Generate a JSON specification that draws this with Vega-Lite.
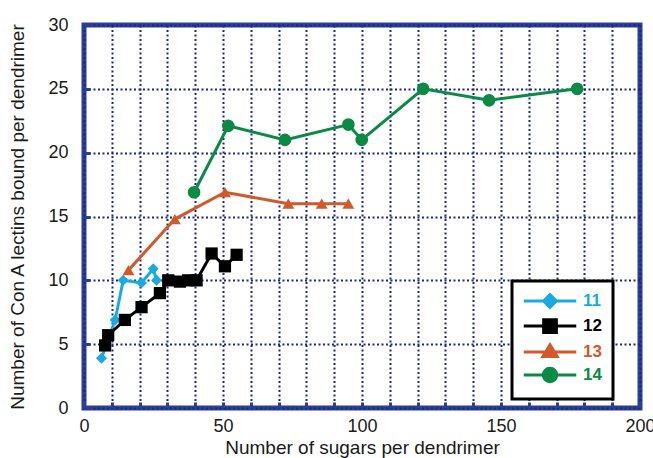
{
  "$schema": "https://vega.github.io/schema/vega-lite/v6.json",
  "width": 556,
  "height": 383,
  "autosize": "none",
  "padding": {"left": 84, "top": 25, "right": 13, "bottom": 50},
  "data": {"values": [
    {"s": "11", "x": 6.3, "y": 3.9},
    {"s": "11", "x": 11.2, "y": 6.9},
    {"s": "11", "x": 14.1, "y": 10.0},
    {"s": "11", "x": 20.7, "y": 9.8},
    {"s": "11", "x": 24.9, "y": 10.9},
    {"s": "11", "x": 26.1, "y": 10.0},
    {"s": "12", "x": 7.6, "y": 4.9},
    {"s": "12", "x": 8.7, "y": 5.7},
    {"s": "12", "x": 14.7, "y": 6.9},
    {"s": "12", "x": 20.7, "y": 7.9},
    {"s": "12", "x": 27.3, "y": 9.0},
    {"s": "12", "x": 30.3, "y": 10.0},
    {"s": "12", "x": 34.5, "y": 9.9},
    {"s": "12", "x": 37.5, "y": 10.0},
    {"s": "12", "x": 40.5, "y": 10.0},
    {"s": "12", "x": 45.9, "y": 12.1},
    {"s": "12", "x": 50.7, "y": 11.1},
    {"s": "12", "x": 54.9, "y": 12.0},
    {"s": "13", "x": 16.0, "y": 10.8},
    {"s": "13", "x": 32.7, "y": 14.8},
    {"s": "13", "x": 50.7, "y": 16.9},
    {"s": "13", "x": 73.5, "y": 16.0},
    {"s": "13", "x": 85.5, "y": 16.0},
    {"s": "13", "x": 95.1, "y": 16.0},
    {"s": "14", "x": 39.6, "y": 16.9},
    {"s": "14", "x": 51.9, "y": 22.1},
    {"s": "14", "x": 72.3, "y": 21.0},
    {"s": "14", "x": 95.1, "y": 22.2},
    {"s": "14", "x": 99.9, "y": 21.0},
    {"s": "14", "x": 122.0, "y": 25.0},
    {"s": "14", "x": 145.7, "y": 24.1},
    {"s": "14", "x": 177.4, "y": 25.0}
  ]},
  "config": {
    "font": "Liberation Sans",
    "view": {"stroke": "#2B3E98", "strokeWidth": 5},
    "axis": {
      "domain": false,
      "grid": true,
      "gridColor": "#1E2585",
      "gridDash": [2, 2.5],
      "gridWidth": 2,
      "gridOpacity": 1,
      "ticks": true,
      "tickSize": -6,
      "tickWidth": 3,
      "tickColor": "#2B3E98",
      "labelFontSize": 18,
      "labelColor": "#1a1a1a",
      "titleFontSize": 19,
      "titleFontWeight": "normal",
      "titleColor": "#1a1a1a"
    }
  },
  "encoding": {
    "x": {
      "field": "x", "type": "quantitative",
      "scale": {"domain": [0, 200], "nice": false},
      "axis": {
        "values": [0,10,20,30,40,50,60,70,80,90,100,110,120,130,140,150,160,170,180,190,200],
        "labelExpr": "datum.value % 50 === 0 ? datum.label : ''",
        "labelPadding": 15,
        "labelFlush": false,
        "title": "Number of sugars per dendrimer",
        "titlePadding": 3
      }
    },
    "y": {
      "field": "y", "type": "quantitative",
      "scale": {"domain": [0, 30], "nice": false},
      "axis": {
        "values": [0,5,10,15,20,25,30],
        "labelPadding": 22,
        "title": "Number of Con A lectins bound per dendrimer",
        "titlePadding": 20
      }
    },
    "color": {
      "field": "s", "type": "nominal",
      "scale": {"domain": ["11", "12", "13", "14"], "range": ["#1AAAE2", "#000000", "#D1592A", "#0B8A44"]},
      "legend": null
    }
  },
  "layer": [
    {
      "mark": {"type": "line", "strokeWidth": 3},
      "encoding": {
        "color": {
          "field": "s", "type": "nominal",
          "legend": {
            "title": null,
            "orient": "none",
            "legendX": 428,
            "legendY": 256,
            "fillColor": "white",
            "strokeColor": "black",
            "padding": 11,
            "symbolSize": 225,
            "symbolStrokeWidth": 3,
            "symbolType": "M-3.5,0H3.5",
            "symbolOffset": 18,
            "labelFontSize": 17,
            "labelFontWeight": "bold",
            "labelOffset": 24,
            "rowPadding": -1,
            "encode": {
              "legend": {"update": {"strokeWidth": {"value": 3}}},
              "symbols": {"update": {
                "shape": {"signal": "datum.value === '11' ? 'M-3.5,0H3.5M0,-0.85L0.85,0L0,0.85L-0.85,0Z' : datum.value === '12' ? 'M-3.5,0H3.5M-0.85,-0.85H0.85V0.85H-0.85Z' : datum.value === '13' ? 'M-3.5,0H3.5M0,-0.95L0.95,0.6H-0.95Z' : 'M-3.5,0H3.5M-0.9,0A0.9,0.9 0 1,0 0.9,0A0.9,0.9 0 1,0 -0.9,0Z'"},
                "fill": {"scale": "color", "field": "value"},
                "stroke": {"scale": "color", "field": "value"}
              }},
              "labels": {"update": {"fill": {"scale": "color", "field": "value"}}}
            }
          }
        }
      }
    },
    {
      "transform": [{"filter": "datum.s === '11'"}],
      "mark": {"type": "point", "filled": true, "opacity": 1, "shape": "diamond", "size": 120}
    },
    {
      "transform": [{"filter": "datum.s === '12'"}],
      "mark": {"type": "point", "filled": true, "opacity": 1, "shape": "square", "size": 150}
    },
    {
      "transform": [{"filter": "datum.s === '13'"}],
      "mark": {"type": "point", "filled": true, "opacity": 1, "shape": "triangle-up", "size": 140}
    },
    {
      "transform": [{"filter": "datum.s === '14'"}],
      "mark": {"type": "point", "filled": true, "opacity": 1, "shape": "circle", "size": 160}
    }
  ]
}
